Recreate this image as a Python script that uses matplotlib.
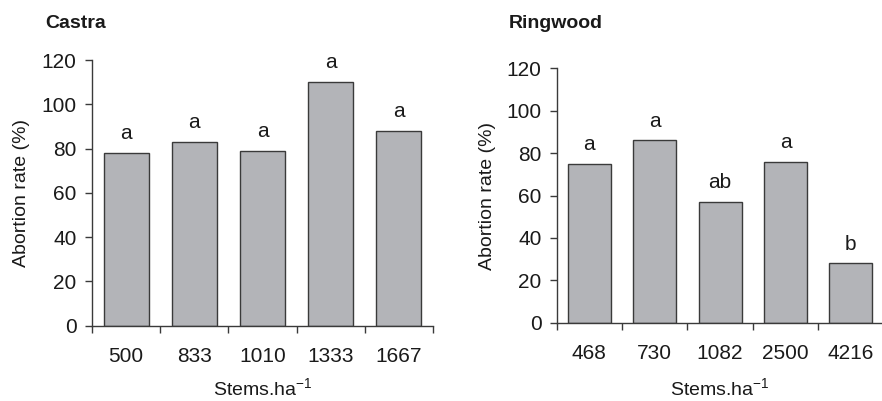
import matplotlib
matplotlib.use("Agg")
import matplotlib.pyplot as plt
import numpy as np

plt.rcParams['font.family'] = ['Liberation Sans', 'DejaVu Sans']

castra_density = ["500", "833", "1010", "1333", "1667"]
castra_rate = [78, 83, 79, 110, 88]
castra_letters = ["a", "a", "a", "a", "a"]

ringwood_density = ["468", "730", "1082", "2500", "4216"]
ringwood_rate = [75, 86, 57, 76, 28]
ringwood_letters = ["a", "a", "ab", "a", "b"]

bar_color = "#b3b4b8"
edge_color = "#3a3a3a"
text_color = "#1a1a1a"

W, H = 882, 401
fig = plt.figure(figsize=(W / 100, H / 100), dpi=100)

# (title, categories, values, letters, axes box in pixels: left, right, top, bottom, title x, ylabel x)
panels = [
    ("Castra", castra_density, castra_rate, castra_letters, (92, 433, 60, 325.7), 45, 22),
    ("Ringwood", ringwood_density, ringwood_rate, ringwood_letters, (556.7, 883.5, 68.3, 322.7), 509, 488),
]

for title, cats, vals, letters, box, title_x, ylab_x in panels:
    left, right, top, bottom = box
    ax = fig.add_axes([left / W, 1 - bottom / H, (right - left) / W, (bottom - top) / H])
    x = np.arange(len(cats))
    ax.bar(x, vals, width=0.66, color=bar_color, edgecolor=edge_color, linewidth=1.0)
    ax.set_xlim(-0.5, len(cats) - 0.5)
    ax.set_ylim(0, 120)
    ax.set_yticks(np.arange(0, 121, 20))
    ax.set_xticks(x)
    ax.set_xticklabels(cats)
    ax.set_xticks(np.arange(-0.5, len(cats)), minor=True)
    ax.tick_params(axis='x', which='major', length=0, pad=15, labelsize=15, colors=text_color)
    ax.tick_params(axis='x', which='minor', length=5, width=1, color=edge_color)
    ax.tick_params(axis='y', length=5, width=1, pad=6, labelsize=15,
                   color=edge_color, labelcolor=text_color)
    for s in ("top", "right"):
        ax.spines[s].set_visible(False)
    for s in ("left", "bottom"):
        ax.spines[s].set_color(edge_color)
        ax.spines[s].set_linewidth(1.0)

    ax.set_ylabel("Abortion rate (%)", fontsize=14, color=text_color, va="center")
    ax.yaxis.set_label_coords((ylab_x - left) / (right - left), 0.5)
    ax.set_xlabel("Stems.ha$^{\\mathregular{-1}}$", fontsize=14, color=text_color, va="center")
    ax.xaxis.set_label_coords(0.5, (bottom - 389) / (bottom - top))

    for xi, v, lab in zip(x, vals, letters):
        ax.annotate(lab, (xi, v), xytext=(0, 7), textcoords="offset points",
                    ha="center", va="bottom", fontsize=15, color=text_color)
    fig.text(title_x / W, 1 - 23 / H, title, fontsize=14, fontweight="bold",
             ha="left", va="center", color=text_color)

fig.savefig("out.png", dpi=100)
